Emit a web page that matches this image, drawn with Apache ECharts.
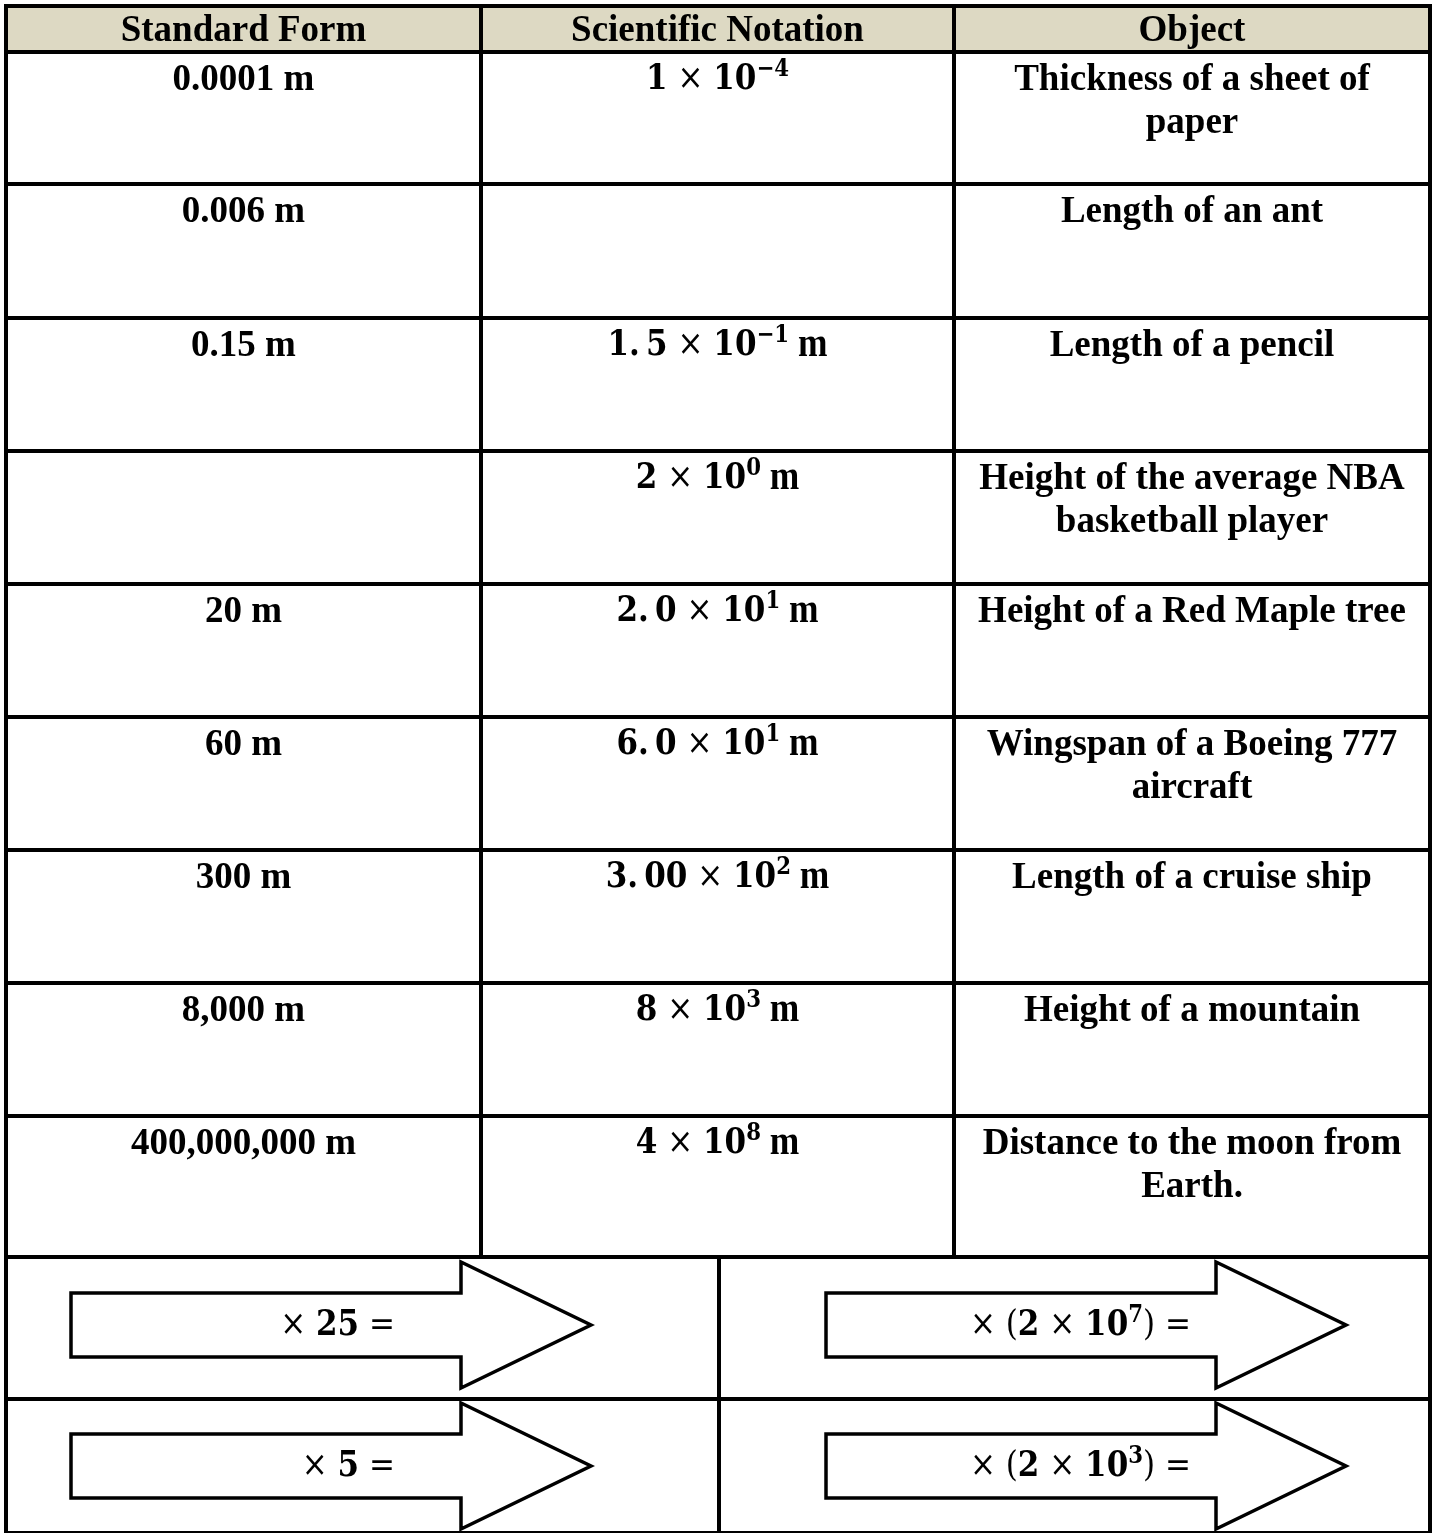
<!DOCTYPE html>
<html>
<head>
<meta charset="utf-8">
<script src="https://cdn.jsdelivr.net/npm/echarts@6/dist/echarts.min.js"></script>
<style>
  html, body { margin: 0; padding: 0; background: #fff; }
  #chart { width: 1435px; height: 1533px; }
</style>
</head>
<body>
<div id="chart"></div>
<script>
const headers = ["Standard Form", "Scientific Notation", "Object"];
const standardForm = ["0.0001 m", "0.006 m", "0.15 m", "", "20 m", "60 m", "300 m", "8,000 m", "400,000,000 m"];
const sciCoef = ["1", "", "1.5", "2", "2.0", "6.0", "3.00", "8", "4"];
const sciExp = ["−4", "", "−1", "0", "1", "1", "2", "3", "8"];
const sciUnit = ["", "", "m", "m", "m", "m", "m", "m", "m"];
const objects = [
  "Thickness of a sheet of\npaper",
  "Length of an ant",
  "Length of a pencil",
  "Height of the average NBA\nbasketball player",
  "Height of a Red Maple tree",
  "Wingspan of a Boeing 777\naircraft",
  "Length of a cruise ship",
  "Height of a mountain",
  "Distance to the moon from\nEarth.",
];
const leftFactors = ["25", "5"];
const rightCoef = ["2", "2"];
const rightExp = ["7", "3"];

const W = 1435;
const H = 1533;
const colEdges = [6, 481, 954, 1430];
const rowEdges = [6, 52, 184, 318, 451, 584, 717, 850, 983, 1116, 1257, 1399, 1533];
const splitX = 719;
const arrowStart = [71, 826];
const arrowTextRight = [395, 1191];
const arrowCenter = [1325, 1466];
const serif = '"Liberation Serif", "Times New Roman", serif';
const math = '"DejaVu Serif", serif';
const mathSize = 35;
const mathSquash = 0.886;
const lineW = 4;

const chart = echarts.init(document.getElementById("chart"));

function colCenter(j) {
  return (colEdges[j] + colEdges[j + 1]) / 2;
}

function plainText(api, x, y, text) {
  const p = api.coord([x, y]);
  return {
    type: "text",
    x: p[0],
    y: p[1],
    style: {
      text: text,
      fill: "#000",
      fontFamily: serif,
      fontWeight: "bold",
      fontSize: 37,
      lineHeight: 43,
      align: "center",
      verticalAlign: "top",
    },
  };
}

function sciText(api, x, y, coef, exp, unit) {
  const p = api.coord([x, y]);
  let text = `{c|${coef.replace(".", ".\u2009")}}{x| × }{c|10}{e|${exp}}`;
  if (unit) text += `{u| ${unit}}`;
  return {
    type: "text",
    x: p[0],
    y: p[1],
    scaleX: mathSquash,
    style: {
      text: text,
      fill: "#000",
      align: "center",
      verticalAlign: "top",
      rich: {
        c: { fontFamily: math, fontWeight: "bold", fontSize: mathSize, lineHeight: 44, fill: "#000" },
        x: { fontFamily: math, fontWeight: "normal", fontSize: mathSize, lineHeight: 44, fill: "#000" },
        e: { fontFamily: math, fontWeight: "bold", fontSize: 24, lineHeight: 26, verticalAlign: "top", fill: "#000" },
        u: { fontFamily: serif, fontWeight: "bold", fontSize: 40, lineHeight: 44, fill: "#000" },
      },
    },
  };
}

function renderHeader(params, api) {
  const j = params.dataIndex;
  const a = api.coord([colEdges[j], rowEdges[0]]);
  const b = api.coord([colEdges[j + 1], rowEdges[1]]);
  const c = api.coord([colCenter(j), (rowEdges[0] + rowEdges[1]) / 2 + 2]);
  return {
    type: "group",
    children: [
      { type: "rect", shape: { x: a[0], y: a[1], width: b[0] - a[0], height: b[1] - a[1] }, style: { fill: "#ddd9c3" } },
      {
        type: "text",
        x: c[0],
        y: c[1],
        style: {
          text: headers[j],
          fill: "#000",
          fontFamily: serif,
          fontWeight: "bold",
          fontSize: 37,
          align: "center",
          verticalAlign: "middle",
        },
      },
    ],
  };
}

function renderRow(params, api) {
  const i = params.dataIndex;
  const top = rowEdges[i + 1];
  const children = [];
  if (standardForm[i]) children.push(plainText(api, colCenter(0), top + 7, standardForm[i]));
  if (sciCoef[i]) children.push(sciText(api, colCenter(1), top + 6, sciCoef[i], sciExp[i], sciUnit[i]));
  children.push(plainText(api, colCenter(2), top + 7, objects[i]));
  return { type: "group", children: children };
}

function renderArrow(params, api) {
  const k = params.dataIndex;
  const col = k % 2;
  const row = Math.floor(k / 2);
  const x0 = arrowStart[col];
  const cy = arrowCenter[row];
  const pts = [
    [x0, cy - 32], [x0 + 390, cy - 32], [x0 + 390, cy - 63], [x0 + 520, cy],
    [x0 + 390, cy + 63], [x0 + 390, cy + 32], [x0, cy + 32],
  ].map((q) => api.coord(q));
  let text;
  if (col === 0) {
    text = `{o|× }{b|${leftFactors[row]}}{o| =}`;
  } else {
    text = `{o|× (}{b|${rightCoef[row]}}{o| × }{b|10}{s|${rightExp[row]}}{o|) =}`;
  }
  const t = api.coord([arrowTextRight[col], cy + 1]);
  return {
    type: "group",
    children: [
      { type: "polygon", shape: { points: pts }, style: { fill: "#fff", stroke: "#000", lineWidth: 3.5 } },
      {
        type: "text",
        x: t[0],
        y: t[1],
        scaleX: mathSquash,
        style: {
          text: text,
          align: "right",
          verticalAlign: "middle",
          rich: {
            o: { fontFamily: math, fontWeight: "normal", fontSize: mathSize, lineHeight: 44, fill: "#000" },
            b: { fontFamily: math, fontWeight: "bold", fontSize: mathSize, lineHeight: 44, fill: "#000" },
            s: { fontFamily: math, fontWeight: "bold", fontSize: 24, lineHeight: 26, verticalAlign: "top", fill: "#000" },
          },
        },
      },
    ],
  };
}

function renderRules(params, api) {
  const segs = [];
  for (const y of rowEdges) segs.push([[colEdges[0] - 2, y], [colEdges[3] + 2, y]]);
  segs.push([[colEdges[0], rowEdges[0]], [colEdges[0], H]]);
  segs.push([[colEdges[3], rowEdges[0]], [colEdges[3], H]]);
  segs.push([[colEdges[1], rowEdges[0]], [colEdges[1], rowEdges[10]]]);
  segs.push([[colEdges[2], rowEdges[0]], [colEdges[2], rowEdges[10]]]);
  segs.push([[splitX, rowEdges[10]], [splitX, H]]);
  return {
    type: "group",
    children: segs.map((s) => {
      const a = api.coord(s[0]);
      const b = api.coord(s[1]);
      return {
        type: "line",
        shape: { x1: a[0], y1: a[1], x2: b[0], y2: b[1] },
        style: { stroke: "#000", lineWidth: lineW },
      };
    }),
  };
}

chart.setOption({
  animation: false,
  backgroundColor: "#fff",
  grid: { left: 0, right: 0, top: 0, bottom: 0 },
  xAxis: { type: "value", min: 0, max: W, show: false },
  yAxis: { type: "value", min: 0, max: H, inverse: true, show: false },
  series: [
    { type: "custom", silent: true, renderItem: renderHeader, data: headers.map((h, j) => [j]) },
    { type: "custom", silent: true, renderItem: renderRow, data: objects.map((o, i) => [i]) },
    { type: "custom", silent: true, renderItem: renderArrow, data: [[0], [1], [2], [3]] },
    { type: "custom", silent: true, renderItem: renderRules, data: [[0]] },
  ],
});
</script>
</body>
</html>
